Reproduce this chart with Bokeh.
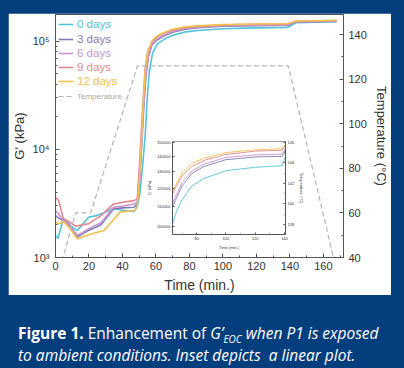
from bokeh.plotting import figure
from bokeh.models import (Range1d, LinearAxis, LinearScale, Legend, LegendItem, SingleIntervalTicker,
                          FixedTicker, BasicTickFormatter, GridBox, Div)
from bokeh.embed import file_html
from bokeh.resources import INLINE

# ---------------- data ----------------
labels = ["0 days", "3 days", "6 days", "9 days", "12 days"]
colors = ["#52c2de", "#7f7db4", "#c994d0", "#e48790", "#f2c04e"]

t_0d = [0, 1.5, 4.7, 8, 13.1, 19.7, 24.4, 29.1, 34.7, 40.4, 46.9, 48.8, 50.5, 52, 53.5, 54.7, 56, 58,
        61, 63.5, 66, 70, 76.7, 85, 100, 120, 138.5, 143.5, 168]
g_0d = [1600, 1500, 2250, 2000, 1780, 2360, 2440, 2590, 2860, 2720, 2660, 2950, 4000, 7000, 13000, 28000, 52000, 78000,
        95000, 101000, 107000, 113500, 121500, 126000, 130800, 133000, 134000, 148500, 151500]

t_3d = [0, 2, 4.7, 8, 13.1, 19.7, 27.2, 34.7, 40.4, 46.9, 48.8, 50.2, 51.3, 52.6, 54, 55.5, 57.5,
        60, 63, 65.3, 70, 76.7, 85, 100, 120, 138.5, 143.5, 168]
g_3d = [2440, 2300, 2200, 2050, 1550, 1780, 2010, 2820, 2880, 2920, 3130, 5200, 10000, 23000, 48000, 72000, 92000,
        101000, 108500, 113000, 121500, 129000, 133500, 138000, 139800, 140300, 150500, 153500]

t_6d = [0, 2, 4.7, 8, 13.1, 21.6, 27.2, 34.7, 40.4, 46.9, 48.8, 50.2, 51.3, 52.6, 54, 55.5, 57.5,
        60, 63, 65.3, 70, 76.7, 85, 100, 120, 138.5, 143.5, 168]
g_6d = [2720, 2500, 2200, 2000, 1600, 1910, 2100, 2920, 3000, 3130, 3250, 5500, 10500, 24000, 50000, 74000, 94000,
        103000, 110500, 115000, 123500, 130500, 135000, 139500, 141200, 141800, 151500, 154500]

t_9d = [0, 1.9, 4.7, 8, 12.2, 19.7, 27.2, 34.7, 40.4, 46.9, 48.8, 50, 51, 52.3, 53.5, 55, 57.5,
        60, 63, 65.3, 70, 76.7, 85, 100, 120, 138.5, 143.5, 168]
g_9d = [3610, 3360, 2280, 2150, 1950, 2050, 2440, 3130, 3250, 3360, 3470, 6500, 12500, 28000, 55000, 80000, 98000,
        108000, 115500, 120000, 127500, 133500, 137500, 141500, 143800, 144500, 153000, 156000]

t_12d = [0, 2, 4.7, 8, 13.1, 21.6, 29.1, 38.5, 46.9, 48.8, 50, 51, 52.3, 53.5, 55, 57.5,
         60, 63, 65.3, 70, 76.7, 85, 100, 120, 138.5, 143.5, 168]
g_12d = [2120, 2050, 2150, 1900, 1490, 1660, 1780, 2630, 2720, 2900, 5000, 10000, 25000, 52000, 78000, 100000,
         110000, 117000, 121500, 129000, 135500, 139000, 142800, 144800, 145500, 153500, 156500]

times = [t_0d, t_3d, t_6d, t_9d, t_12d]
moduli = [g_0d, g_3d, g_6d, g_9d, g_12d]

temp_t = [0, 12, 21, 49, 139, 166, 172]
temp_c = [28, 60, 60, 126, 126, 40, 21]

log_ticks = [1000, 10000, 100000]
log_tick_labels = ["10³", "10⁴", "10⁵"]
inset_g_ticks = [100000, 110000, 120000, 130000, 140000, 150000]

FONT = "Liberation Sans"
BLUE = "#043e7d"
AX = "#555555"

# ---------------- main chart ----------------
p = figure(width=383, height=282, x_range=Range1d(0, 172), y_range=Range1d(1000, 177000),
           y_axis_type="log", output_backend="svg", toolbar_location=None,
           min_border_left=37, min_border_right=41, min_border_top=1, min_border_bottom=37,
           border_fill_color="white", background_fill_color="white",
           outline_line_color=AX, outline_line_width=1)
p.grid.visible = False
p.extra_y_ranges = {"temp": Range1d(40, 149)}
p.extra_y_scales = {"temp": LinearScale()}

def style_axis(ax, size="11px", tin=4, mtin=2, standoff=5):
    ax.axis_line_color = AX
    ax.major_tick_line_color = AX
    ax.minor_tick_line_color = AX
    ax.major_tick_in = tin
    ax.major_tick_out = 0
    ax.minor_tick_in = mtin
    ax.minor_tick_out = 0
    ax.major_label_text_font = FONT
    ax.major_label_text_font_size = size
    ax.major_label_text_color = "#333333"
    ax.major_label_standoff = standoff
    ax.axis_label_text_font = FONT
    ax.axis_label_text_font_style = "normal"
    ax.axis_label_text_color = "#333333"

xa = p.xaxis[0]
xa.ticker = SingleIntervalTicker(interval=20, num_minor_ticks=2)
style_axis(xa, standoff=4)
xa.axis_label = "Time (min.)"
xa.axis_label_text_font_size = "14px"
xa.axis_label_standoff = 4

ya = p.yaxis[0]
style_axis(ya, standoff=6)
ya.major_label_overrides = {v: s for v, s in zip(log_ticks, log_tick_labels)}
ya.axis_label = "G' (kPa)"
ya.axis_label_text_font_size = "13px"
ya.axis_label_standoff = 3

ra = LinearAxis(y_range_name="temp", ticker=SingleIntervalTicker(interval=20, num_minor_ticks=2),
                axis_label="Temperature (°C)")
style_axis(ra, standoff=5)
ra.axis_label_text_font_size = "13px"
ra.axis_label_standoff = 4
p.add_layout(ra, "right")

renderers = []
for t, g, c in zip(times, moduli, colors):
    renderers.append(p.line(t, g, line_color=c, line_width=1.6))
temp_r = p.line(temp_t, temp_c, y_range_name="temp", line_color="#b4b4b4",
                line_width=1.2, line_dash="5 3")

legend_y = [226, 211.5, 197, 183, 169]
for lab, c, r, y in zip(labels, colors, renderers, legend_y):
    lg = Legend(items=[LegendItem(label=lab, renderers=[r])], location=(3, y),
                label_text_color=c, label_text_font=FONT, label_text_font_size="11.5px",
                glyph_width=15, glyph_height=14, label_height=14, label_standoff=4,
                padding=0, margin=0, spacing=0, border_line_alpha=0, background_fill_alpha=0)
    p.add_layout(lg)
lg_t = Legend(items=[LegendItem(label="Temperature", renderers=[temp_r])], location=(3, 154),
              label_text_color="#a8a8a8", label_text_font=FONT, label_text_font_size="8px",
              glyph_width=15, glyph_height=14, label_height=14, label_standoff=4,
              padding=0, margin=0, spacing=0, border_line_alpha=0, background_fill_alpha=0)
p.add_layout(lg_t)

# ---------------- inset ----------------
ins = figure(width=163, height=113, x_range=Range1d(63.5, 140.7), y_range=Range1d(96000, 150700),
             y_axis_type="log", output_backend="svg", toolbar_location=None,
             min_border_left=26, min_border_right=20, min_border_top=2, min_border_bottom=16,
             border_fill_alpha=0, background_fill_color="white",
             outline_line_color="#888888", outline_line_width=0.8)
ins.grid.visible = False
ins.extra_y_ranges = {"temp": Range1d(137, 146.1)}
ins.extra_y_scales = {"temp": LinearScale()}

ixa = ins.xaxis[0]
ixa.ticker = SingleIntervalTicker(interval=20, num_minor_ticks=2)
style_axis(ixa, size="4px", tin=2, mtin=1, standoff=2)
ixa.axis_label = "Time (min.)"
ixa.axis_label_text_font_size = "4px"
ixa.axis_label_standoff = 2

iya = ins.yaxis[0]
iya.ticker = FixedTicker(ticks=inset_g_ticks, minor_ticks=[])
iya.formatter = BasicTickFormatter(use_scientific=False)
style_axis(iya, size="4px", tin=2, mtin=1, standoff=2)
iya.axis_label = "G' (kPa)"
iya.axis_label_text_font_size = "4px"
iya.axis_label_standoff = 2

ira = LinearAxis(y_range_name="temp", ticker=SingleIntervalTicker(interval=2, num_minor_ticks=2),
                 axis_label="Temperature (°C)")
style_axis(ira, size="4px", tin=2, mtin=1, standoff=2)
ira.axis_label_text_font_size = "4px"
ira.axis_label_standoff = 2
ins.add_layout(ira, "right")

for t, g, c in zip(times, moduli, colors):
    ins.line(t, g, line_color=c, line_width=0.9)

# ---------------- caption ----------------
caption = Div(width=383, height=65, text=(
    "<div style=\"color:#ffffff;font-family:'Open Sans';font-size:15.5px;line-height:22px;"
    "padding:22px 0 0 5px;white-space:nowrap;\">"
    "<b>Figure 1.</b> Enhancement of <i>G\u2019<sub style='font-size:10px;line-height:0'>EOC</sub> when P1 is exposed"
    "<br>to ambient conditions. Inset depicts&nbsp; a linear plot.</i></div>"))

layout = GridBox(children=[(p, 1, 1, 3, 3), (ins, 2, 2, 1, 1), (caption, 4, 1, 1, 3)],
                 rows=["13px", "126px", "113px", "43px", "65px"],
                 cols=["8px", "136px", "163px", "84px"])

html = file_html(layout, INLINE)
html = html.replace("</head>",
                    "<style>html,body{margin:0;padding:0;background:%s;}</style></head>" % BLUE, 1)
open("out.html", "w").write(html)
